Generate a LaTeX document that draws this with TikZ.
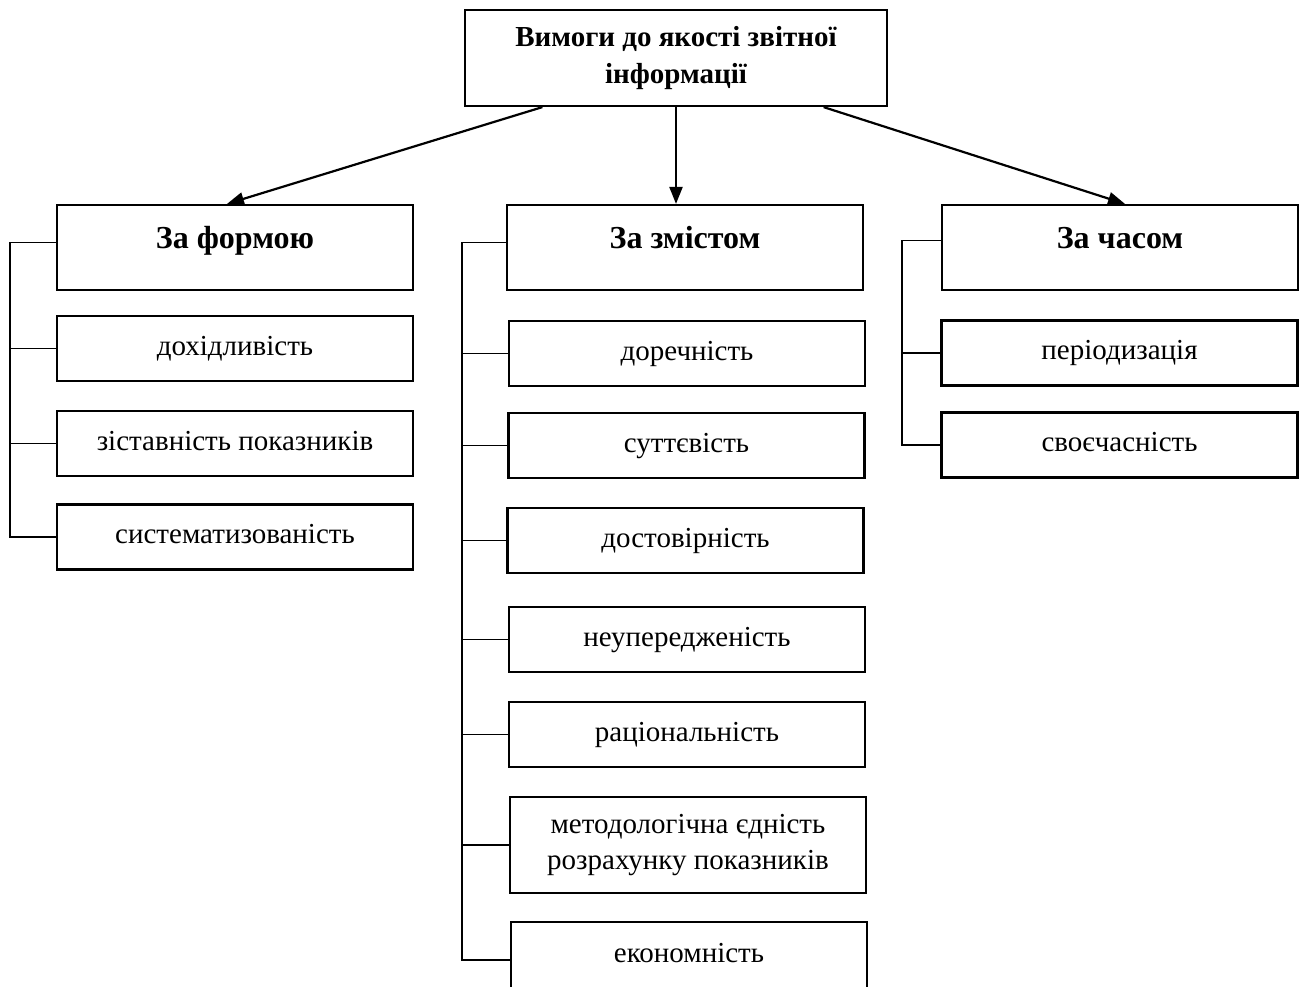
\documentclass[tikz,border=0pt]{standalone}
\usepackage{fontspec}
\setmainfont{Liberation Serif}
\usetikzlibrary{arrows.meta,calc}
\begin{document}
\begin{tikzpicture}[x=1pt,y=-1pt,
  box/.style={draw,line width=2.2pt,minimum width=356pt,minimum height=65pt,inner sep=0pt,
    font=\fontsize{29}{34}\selectfont,text height=20pt,text depth=7pt},
  headbox/.style={box,minimum height=85pt,font=\fontsize{32}{36}\selectfont\bfseries,text height=24pt,text depth=22pt},
  twobox/.style={box,minimum height=96pt,align=center,text height=,text depth=},
  arr/.style={line width=2.2pt,-{Triangle[length=17pt,width=13pt]}},
  brk/.style={line width=1.1pt}]
\useasboundingbox (0,0) rectangle (1306,986);
% top
\node[draw,line width=2.2pt,minimum width=422pt,minimum height=96pt,inner sep=0pt,align=center,
  font=\fontsize{29}{37}\selectfont\bfseries] (top) at (676,58) {Вимоги до якості звітної\\інформації};
% headers
\node[headbox] (f) at (235,247.5) {За формою};
\node[headbox] (z) at (685,247.5) {За змістом};
\node[headbox] (t) at (1120,247.5) {За часом};
% left column
\node[box] (f1) at (235,348.5) {дохідливість};
\node[box] (f2) at (235,443.5) {зіставність показників};
\node[box] (f3) at (235,537) {систематизованість};
% middle column
\node[box] (z1) at (687,353.5) {доречність};
\node[box] (z2) at (686.5,445.5) {суттєвість};
\node[box] (z3) at (685.5,540.5) {достовірність};
\node[box] (z4) at (687,639.5) {неупередженість};
\node[box] (z5) at (687,734.5) {раціональність};
\node[twobox,font=\fontsize{29}{36}\selectfont] (z6) at (688,845) {методологічна єдність\\розрахунку показників};
\node[box,minimum height=68pt] (z7) at (689,956) {економність};
% right column
\node[box] (t1) at (1119.5,353) {періодизація};
\node[box] (t2) at (1119.5,445) {своєчасність};
% arrows
\draw[arr] ($(top.south west)!0.185!(top.south east)$) -- ([xshift=-8pt]f.north);
\draw[arr] (top.south) -- (top.south |- z.north);
\draw[arr] ($(top.south west)!0.848!(top.south east)$) -- ([xshift=5pt]t.north);
% brackets
\coordinate (lx) at (10,0);
\coordinate (mx) at (462,0);
\coordinate (rx) at (902,0);
\draw[brk] ([yshift=5pt]f.west) -- ([yshift=5pt]f.west -| lx) -- (f3.west -| lx) -- (f3.west);
\draw[brk] (f1.west) -- (f1.west -| lx);
\draw[brk] (f2.west) -- (f2.west -| lx);
\draw[brk] ([yshift=5pt]z.west) -- ([yshift=5pt]z.west -| mx) -- ([yshift=-4pt]z7.west -| mx) -- ([yshift=-4pt]z7.west);
\foreach \n in {z1,z2,z3,z4,z5,z6} \draw[brk] (\n.west) -- (\n.west -| mx);
\draw[brk] ([yshift=7pt]t.west) -- ([yshift=7pt]t.west -| rx) -- (t2.west -| rx) -- (t2.west);
\draw[brk] (t1.west) -- (t1.west -| rx);
\end{tikzpicture}
\end{document}
